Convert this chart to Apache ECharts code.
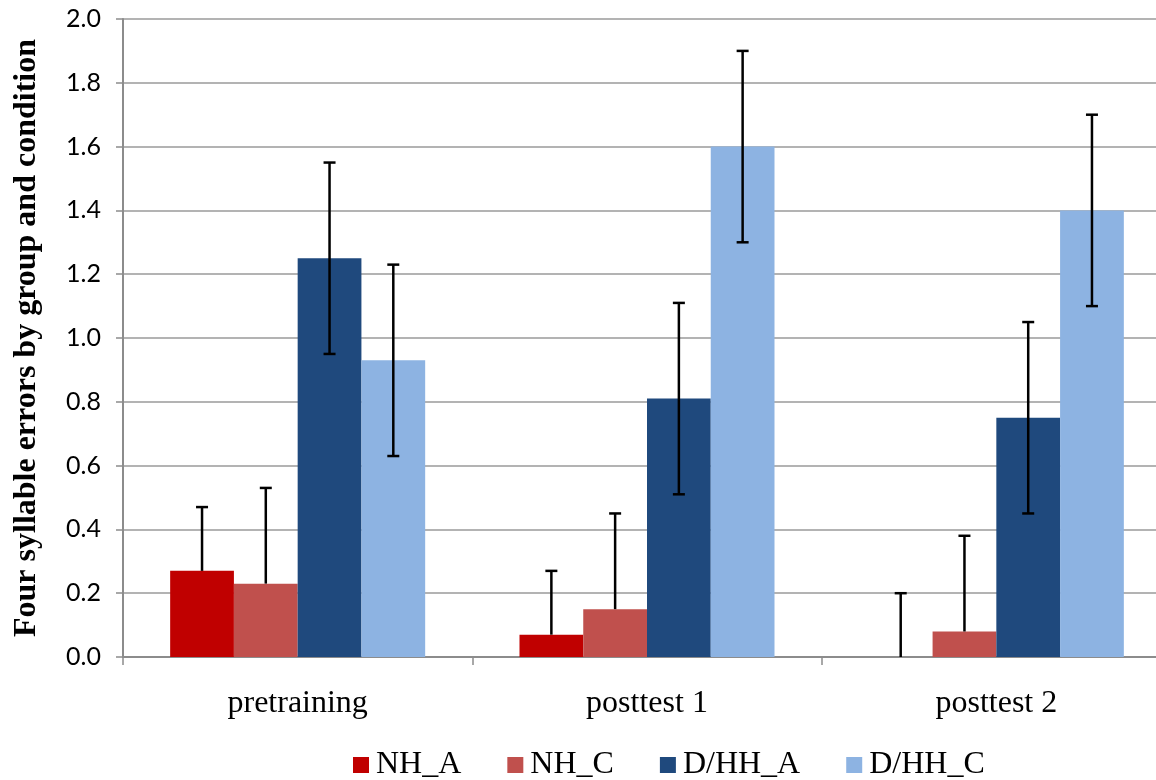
<!DOCTYPE html>
<html>
<head>
<meta charset="utf-8">
<script src="https://cdn.jsdelivr.net/npm/echarts@6/dist/echarts.min.js"></script>
<style>html,body{margin:0;padding:0;background:#fff}#c{width:1156px;height:780px}</style>
</head>
<body>
<div id="c"></div>
<script>
const categories = ['pretraining', 'posttest 1', 'posttest 2'];
const seriesNames = ['NH_A', 'NH_C', 'D/HH_A', 'D/HH_C'];
const nhA = [0.27, 0.07, 0.00];
const nhC = [0.23, 0.15, 0.08];
const dhhA = [1.25, 0.81, 0.75];
const dhhC = [0.93, 1.60, 1.40];
const errPlus = [[0.2, 0.2, 0.2], [0.3, 0.3, 0.3], [0.3, 0.3, 0.3], [0.3, 0.3, 0.3]];
const errMinus = [[0, 0, 0], [0, 0, 0], [0.3, 0.3, 0.3], [0.3, 0.3, 0.3]];
const yTicks = [0, 0.2, 0.4, 0.6, 0.8, 1.0, 1.2, 1.4, 1.6, 1.8, 2.0];
const colors = ['#C00000', '#C0504D', '#1F497D', '#8DB3E2'];

const values = [nhA, nhC, dhhA, dhhC];
const catGap = 0.27;
const nSeries = values.length;

const chart = echarts.init(document.getElementById('c'));

const barSeries = values.map((v, i) => ({
  name: seriesNames[i],
  type: 'bar',
  data: v,
  barGap: '0%',
  barCategoryGap: (catGap * 100) + '%',
  itemStyle: { color: colors[i] },
  z: 2
}));

const errData = [];
values.forEach((v, si) => {
  v.forEach((val, ci) => {
    errData.push([ci, val, val + errPlus[si][ci], val - errMinus[si][ci], si]);
  });
});

const errSeries = {
  type: 'custom',
  name: 'err',
  z: 10,
  silent: true,
  renderItem: function (params, api) {
    const ci = api.value(0);
    const val = api.value(1);
    const hi = api.value(2);
    const lo = api.value(3);
    const si = api.value(4);
    const bandW = api.size([1, 0])[0];
    const barW = bandW * (1 - catGap) / nSeries;
    const center = api.coord([ci, val]);
    const x = center[0] + (si - (nSeries - 1) / 2) * barW;
    const yHi = api.coord([ci, hi])[1];
    const yLo = api.coord([ci, lo])[1];
    const cap = 6;
    const style = { stroke: '#000', lineWidth: 2.5 };
    const children = [
      { type: 'line', shape: { x1: x, y1: yHi, x2: x, y2: yLo }, style: style },
      { type: 'line', shape: { x1: x - cap, y1: yHi, x2: x + cap, y2: yHi }, style: style }
    ];
    if (hi - val > 0 && val - lo > 0) {
      children.push({ type: 'line', shape: { x1: x - cap, y1: yLo, x2: x + cap, y2: yLo }, style: style });
    }
    return { type: 'group', children: children };
  },
  data: errData
};

chart.setOption({
  animation: false,
  color: colors,
  grid: { left: 123, top: 19, width: 1048, height: 638, containLabel: false, outerBoundsMode: 'none' },
  legend: {
    data: seriesNames,
    bottom: -6,
    left: 348,
    itemWidth: 16,
    itemHeight: 16,
    itemGap: 46,
    icon: 'rect',
    textStyle: { fontFamily: 'Liberation Serif', fontSize: 32, color: '#000', padding: [0, 0, 0, 2] }
  },
  xAxis: {
    type: 'category',
    data: categories,
    axisLine: { lineStyle: { color: '#8c8c8c', width: 2 } },
    axisTick: { show: true, length: 8, lineStyle: { color: '#8c8c8c', width: 1.5 }, alignWithLabel: false },
    axisLabel: { margin: 31, fontFamily: 'Liberation Serif', fontSize: 32, color: '#000' },
    splitLine: { show: false }
  },
  yAxis: {
    type: 'value',
    min: 0,
    max: 2.0,
    interval: 0.2,
    name: 'Four syllable errors by group and condition',
    nameLocation: 'middle',
    nameGap: 80,
    nameRotate: 90,
    nameTextStyle: { fontFamily: 'Liberation Serif', fontSize: 32, fontWeight: 'bold', color: '#000' },
    axisLine: { show: true, lineStyle: { color: '#8c8c8c', width: 2 } },
    axisTick: { show: true, length: 7, lineStyle: { color: '#8c8c8c', width: 1.5 } },
    axisLabel: {
      margin: 22,
      fontFamily: 'Lato',
      fontSize: 25,
      color: '#000',
      formatter: function (v) {
        const t = yTicks.find(k => Math.abs(k - v) < 1e-9);
        return (t !== undefined ? t : v).toFixed(1);
      }
    },
    splitLine: { show: true, lineStyle: { color: '#9a9a9a', width: 1.5 } }
  },
  series: barSeries.concat([errSeries])
});
</script>
</body>
</html>
